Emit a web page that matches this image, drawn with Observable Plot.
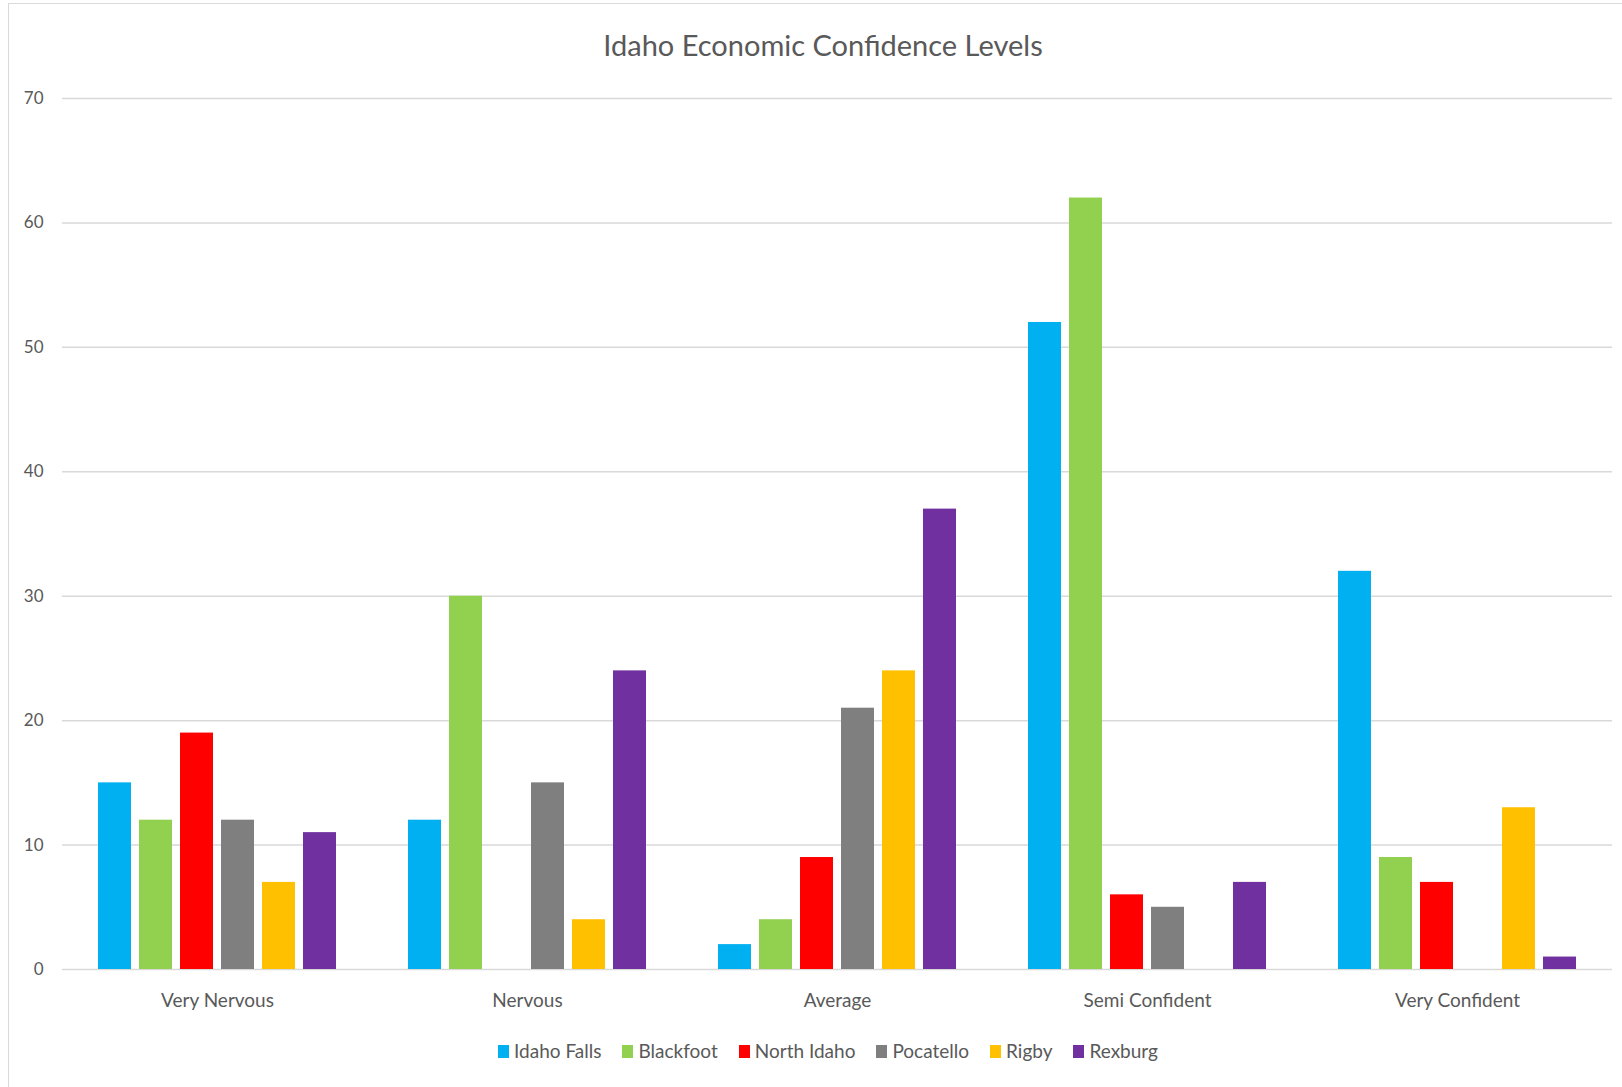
<!DOCTYPE html>
<html>
<head>
<meta charset="utf-8">
<script src="https://cdn.jsdelivr.net/npm/d3@7"></script>
<script src="https://cdn.jsdelivr.net/npm/@observablehq/plot@0.6"></script>
<style>
  html, body { margin: 0; padding: 0; background: #fff; }
  body { width: 1622px; height: 1087px; position: relative; overflow: hidden;
         font-family: Lato, 'Open Sans', sans-serif; color: #595959; }
  #frame { position: absolute; left: 8px; top: 3px; width: 1640px; height: 1120px; border: 1.5px solid #d9d9d9; box-sizing: border-box; }
  #title { position: absolute; left: 0; top: 27px; width: 1646px; text-align: center; font-size: 29px; line-height: 36px; color: #595959; }
  #chart { position: absolute; left: 0; top: 0; }
  #legend { position: absolute; left: 0; width: 1656px; top: 1039px; display: flex; justify-content: center; gap: 21px; font-size: 19px; line-height: 24px; }
  .item { display: flex; align-items: center; gap: 5px; }
  .sw { width: 11px; height: 13px; display: inline-block; }
</style>
</head>
<body>
<div id="frame"></div>
<div id="title">Idaho Economic Confidence Levels</div>
<div id="chart"></div>
<div id="legend"></div>
<script>
const categories = ["Very Nervous", "Nervous", "Average", "Semi Confident", "Very Confident"];
const cities = ["Idaho Falls", "Blackfoot", "North Idaho", "Pocatello", "Rigby", "Rexburg"];
const colors = ["#00B0F0", "#92D050", "#FF0000", "#7F7F7F", "#FFC000", "#7030A0"];
const idahoFalls = [15, 12, 2, 52, 32];
const blackfoot  = [12, 30, 4, 62, 9];
const northIdaho = [19, 0, 9, 6, 7];
const pocatello  = [12, 15, 21, 5, 0];
const rigby      = [7, 4, 24, 0, 13];
const rexburg    = [11, 24, 37, 7, 1];
const yTicks = [0, 10, 20, 30, 40, 50, 60, 70];

const series = [idahoFalls, blackfoot, northIdaho, pocatello, rigby, rexburg];
const data = [];
cities.forEach((city, i) => {
  categories.forEach((cat, j) => {
    data.push({category: cat, city: city, value: series[i][j]});
  });
});

const chart = Plot.plot({
  width: 1622,
  height: 1030,
  marginTop: 98,
  marginBottom: 61,
  marginLeft: 61,
  marginRight: 9,
  style: {fontFamily: "Lato, 'Open Sans', sans-serif", color: "#595959", background: "transparent"},
  fx: {domain: categories, padding: 0, label: null},
  x: {domain: cities, axis: null, paddingInner: 0.2, paddingOuter: 0.85},
  y: {domain: [0, 70], label: null},
  color: {domain: cities, range: colors},
  marks: [
    Plot.gridY(yTicks, {stroke: "#d9d9d9", strokeOpacity: 1, strokeWidth: 1.5}),
    Plot.axisY(yTicks, {tickSize: 0, tickPadding: 19, fontSize: 17, label: null}),
    Plot.axisFx({anchor: "bottom", tickSize: 0, tickPadding: 24, fontSize: 19, label: null}),
    Plot.barY(data, {fx: "category", x: "city", y: "value", fill: "city"})
  ]
});
document.getElementById("chart").appendChild(chart);

const legend = document.getElementById("legend");
cities.forEach((city, i) => {
  const item = document.createElement("div");
  item.className = "item";
  const sw = document.createElement("span");
  sw.className = "sw";
  sw.style.background = colors[i];
  const t = document.createElement("span");
  t.textContent = city;
  item.appendChild(sw);
  item.appendChild(t);
  legend.appendChild(item);
});
</script>
</body>
</html>
